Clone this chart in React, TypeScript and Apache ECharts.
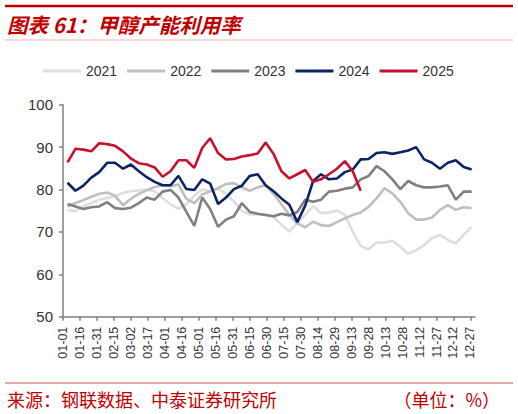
import { useEffect, useRef } from 'react';
import * as echarts from 'echarts';

// 每周数据（按自然日 MM-DD 分类轴，首个数据点落在 01-05）
const YEARS = ['2021', '2022', '2023', '2024', '2025'];

const v2021 = [
  75.2, 74.9, 76.0, 76.8, 77.6, 78.0, 78.4, 79.2, 79.6, 79.8, 80.0, 79.6, 78.0,
  76.5, 75.5, 76.5, 78.5, 80.0, 79.5, 80.2, 79.0, 77.2, 74.9, 74.1, 74.1, 74.1,
  73.5, 71.7, 70.1, 72.1, 74.0, 76.1, 74.4, 74.6, 75.0, 74.0, 70.0, 66.7, 65.9,
  67.5, 67.5, 67.9, 66.5, 64.8, 65.7, 66.9, 68.5, 69.3, 68.1, 67.3, 69.3, 71.2,
];
const v2022 = [
  76.0, 76.8, 77.5, 78.3, 79.0, 79.3, 78.5, 76.3, 77.8, 79.0, 79.8, 80.6, 81.0,
  80.8, 81.2, 77.8, 76.8, 78.8, 79.6, 80.3, 81.3, 81.5, 80.5, 79.7, 80.5, 81.0,
  79.0, 76.5, 74.0, 72.0, 71.1, 72.4, 71.6, 71.4, 72.3, 73.2, 74.0, 74.6, 75.9,
  77.9, 80.3, 79.1, 77.1, 74.4, 72.9, 72.9, 73.4, 75.2, 76.3, 75.2, 75.8, 75.6,
];
const v2023 = [
  76.6, 76.0, 75.4, 75.8, 76.0, 77.0, 75.6, 75.4, 75.7, 76.8, 78.1, 77.6, 79.5,
  79.9, 78.1, 74.7, 71.4, 78.1, 75.4, 71.2, 72.9, 73.7, 76.8, 74.7, 74.3, 74.0,
  73.7, 74.3, 73.9, 74.7, 77.6, 77.1, 77.6, 79.5, 79.7, 80.2, 80.5, 82.4, 83.2,
  85.5, 84.3, 82.4, 80.1, 82.0, 81.0, 80.5, 80.5, 80.7, 81.0, 77.6, 79.5, 79.5,
];
const v2024 = [
  81.6, 79.7, 80.9, 82.8, 84.1, 86.3, 86.3, 84.9, 85.9, 84.3, 82.9, 81.8, 81.0,
  81.0, 83.2, 80.1, 79.9, 82.4, 81.4, 76.6, 78.1, 80.1, 80.9, 83.2, 83.6, 81.0,
  79.6, 77.9, 76.4, 72.3, 76.2, 82.0, 83.6, 82.4, 82.6, 84.1, 84.7, 87.1, 87.2,
  88.6, 88.8, 88.4, 88.8, 89.2, 90.0, 87.1, 86.3, 84.9, 86.3, 86.9, 85.3, 84.7,
];
const v2025 = [
  86.4, 89.6, 89.4, 89.0, 90.9, 90.7, 90.3, 89.0, 87.3, 86.2, 85.9, 85.2, 83.0,
  84.3, 86.9, 86.9, 85.1, 89.8, 92.1, 88.6, 87.1, 87.2, 87.8, 88.1, 88.5, 91.1,
  88.4, 84.3, 82.6, 83.6, 84.6, 81.8, 82.4, 83.6, 84.9, 86.7, 84.3, 79.7,
];

const VALUES = [v2021, v2022, v2023, v2024, v2025];
const COLORS = ['#dedede', '#bfbfbf', '#808080', '#0b2466', '#c8102e'];

const MONTH_DAYS = [31, 28, 31, 30, 31, 30, 31, 31, 30, 31, 30, 31];
const FIRST_DAY = 4;

const pad = (n: number) => (n < 10 ? '0' + n : '' + n);

function buildDays(): string[] {
  const out: string[] = [];
  MONTH_DAYS.forEach((len, m) => {
    for (let d = 1; d <= len; d++) out.push(`${pad(m + 1)}-${pad(d)}`);
  });
  return out;
}

const DAYS = buildDays();

/** 周度数据放到日度分类轴上，其余位置为空值。 */
function toDaily(weekly: number[]): (number | null)[] {
  const arr: (number | null)[] = DAYS.map(() => null);
  weekly.forEach((v, i) => {
    const idx = FIRST_DAY + i * 7;
    if (idx < arr.length) arr[idx] = v;
  });
  return arr;
}

const LATIN = '"Liberation Sans", Arial, sans-serif';
const CJK = '"Noto Sans CJK SC", sans-serif';

export default function App() {
  const ref = useRef<HTMLDivElement>(null);

  useEffect(() => {
    if (!ref.current) return;
    const chart = echarts.init(ref.current, null, { renderer: 'svg' });

    chart.setOption({
      animation: false,
      backgroundColor: '#ffffff',
      graphic: [
        { type: 'line', shape: { x1: 5, y1: 6, x2: 513, y2: 6 }, style: { stroke: '#c00000', lineWidth: 2.5 } },
        {
          type: 'text',
          x: 7,
          y: 24,
          style: {
            text: '图表 61：甲醇产能利用率',
            fill: '#c00000',
            fontSize: 20.5,
            fontWeight: 'bold',
            fontStyle: 'italic',
            fontFamily: CJK,
            verticalAlign: 'middle',
          },
        },
        { type: 'line', shape: { x1: 5, y1: 40, x2: 513, y2: 40 }, style: { stroke: '#f2b3b3', lineWidth: 1 } },
        { type: 'line', shape: { x1: 5, y1: 383, x2: 513, y2: 383 }, style: { stroke: '#d05050', lineWidth: 1 } },
        {
          type: 'text',
          x: 7,
          y: 399,
          style: {
            text: '来源：钢联数据、中泰证券研究所',
            fill: '#c00000',
            fontSize: 18,
            fontFamily: CJK,
            verticalAlign: 'middle',
          },
        },
        {
          type: 'text',
          x: 500,
          y: 399,
          style: {
            text: '（单位：%）',
            fill: '#c00000',
            fontSize: 18,
            fontFamily: CJK,
            align: 'right',
            verticalAlign: 'middle',
          },
        },
      ],
      legend: {
        left: 38,
        top: 59,
        icon: 'rect',
        itemWidth: 38,
        itemHeight: 3,
        itemGap: 10,
        textStyle: { fontSize: 14, color: '#333', fontFamily: LATIN },
        data: YEARS,
      },
      grid: { left: 63, right: 43, top: 104.7, bottom: 97.3 },
      xAxis: {
        type: 'category',
        data: DAYS,
        boundaryGap: false,
        axisLine: { lineStyle: { color: '#808080', width: 1.5 } },
        axisTick: { interval: 14, length: 4, lineStyle: { color: '#808080', width: 1.5 } },
        axisLabel: {
          interval: 14,
          rotate: 90,
          margin: 10,
          fontSize: 12.5,
          color: '#333',
          fontFamily: LATIN,
        },
      },
      yAxis: {
        type: 'value',
        min: 50,
        max: 100,
        interval: 10,
        splitLine: { show: false },
        axisLine: { show: true, lineStyle: { color: '#808080', width: 1.5 } },
        axisTick: { show: true, length: 4, lineStyle: { color: '#808080', width: 1.5 } },
        axisLabel: { fontSize: 15, color: '#333', margin: 10, fontFamily: LATIN },
      },
      series: YEARS.map((name, k) => ({
        name,
        type: 'line',
        data: toDaily(VALUES[k]),
        connectNulls: true,
        symbol: 'none',
        itemStyle: { color: COLORS[k] },
        lineStyle: { color: COLORS[k], width: 2.6 },
      })),
    });

    return () => chart.dispose();
  }, []);

  return (
    <div
      ref={ref}
      style={{ position: 'fixed', left: 0, top: 0, width: 518, height: 414 }}
    />
  );
}
